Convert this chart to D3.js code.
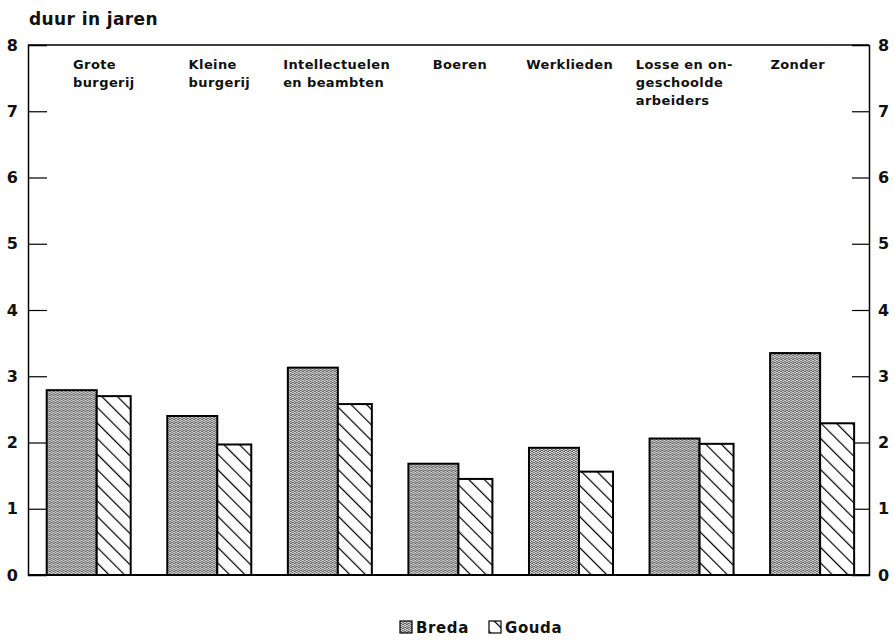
<!DOCTYPE html>
<html><head><meta charset="utf-8">
<script src="https://cdn.jsdelivr.net/npm/d3@7"></script>
<style>
html,body{margin:0;padding:0;background:#fff;}
text{font-family:"DejaVu Sans",sans-serif;font-weight:bold;fill:#111;}
</style></head>
<body><svg id="chart" width="894" height="640"></svg>
<script>
// ---- data ----
const categories = ["Grote burgerij","Kleine burgerij","Intellectuelen en beambten","Boeren","Werklieden","Losse en ongeschoolde arbeiders","Zonder"];
const categoryLabels = [["Grote","burgerij"],["Kleine","burgerij"],["Intellectuelen","en beambten"],["Boeren"],["Werklieden"],["Losse en on-","geschoolde","arbeiders"],["Zonder"]];
const breda = [2.79, 2.40, 3.13, 1.68, 1.92, 2.06, 3.35];
const gouda = [2.70, 1.97, 2.58, 1.45, 1.56, 1.98, 2.29];
const seriesNames = ["Breda","Gouda"];
const yTicks = [0,1,2,3,4,5,6,7,8];
const yTitle = "duur in jaren";

// ---- layout ----
const svg = d3.select("#chart");
const padL = 28, padR = 869, padT = 45, padB = 575;
const x = d3.scaleBand().domain(categories).range([28, 872]).padding(0);
const y = d3.scaleLinear().domain([0, 8]).range([padB, padT]);
const groupOffset = 18.7, wBreda = 50, wGouda = 34;
const labelDx = [45, 40, 14, 43, 16, 5, 19];

const defs = svg.append("defs");
// stipple pattern for Breda
const p1 = defs.append("pattern").attr("id","stip").attr("patternUnits","userSpaceOnUse")
  .attr("width",4).attr("height",4);
p1.append("rect").attr("width",4).attr("height",4).attr("fill","#d0d0d0");
[[0,0],[2,1],[1,2],[3,3],[2,3],[0,2]].forEach(([a,b])=>p1.append("rect").attr("x",a).attr("y",b).attr("width",1).attr("height",1).attr("fill","#666"));
[[1,0],[3,1],[3,2]].forEach(([a,b])=>p1.append("rect").attr("x",a).attr("y",b).attr("width",1).attr("height",1).attr("fill","#999"));
// diagonal hatch for Gouda
const p2 = defs.append("pattern").attr("id","hatch").attr("patternUnits","userSpaceOnUse")
  .attr("width",11).attr("height",11).attr("patternTransform","rotate(-45)");
p2.append("rect").attr("width",11).attr("height",11).attr("fill","#fff");
p2.append("line").attr("x1",0).attr("y1",0).attr("x2",0).attr("y2",11).attr("stroke","#000").attr("stroke-width",2.4);

// title
svg.append("text").attr("x",29).attr("y",25).attr("font-size",17).attr("letter-spacing",0.4).text(yTitle);

// frame: axes
const gL = svg.append("g").attr("transform",`translate(${padL},0)`)
  .call(d3.axisLeft(y).tickValues(yTicks).tickSize(-19).tickPadding(10).tickFormat(d3.format("d")));
const gR = svg.append("g").attr("transform",`translate(${padR},0)`)
  .call(d3.axisRight(y).tickValues(yTicks).tickSize(-17).tickPadding(9).tickFormat(d3.format("d")));
[gL,gR].forEach(g=>{
  g.select(".domain").attr("stroke","#000").attr("stroke-width",1.5);
  g.selectAll(".tick line").attr("stroke","#000").attr("stroke-width",1.2);
  g.selectAll(".tick").filter(d=>d===0||d===8).select("line").remove();
  g.selectAll(".tick text").attr("font-size",16).attr("font-family","DejaVu Sans").attr("font-weight","bold").attr("fill","#111");
});
svg.append("line").attr("x1",padL).attr("x2",padR).attr("y1",y(8)).attr("y2",y(8)).attr("stroke","#000").attr("stroke-width",1.5);

// bars
const groups = svg.append("g").selectAll("g").data(categories).join("g")
  .attr("transform",d=>`translate(${x(d)+groupOffset},0)`);
groups.append("rect").attr("x",0).attr("width",wBreda)
  .attr("y",(d,i)=>y(breda[i])).attr("height",(d,i)=>y(0)-y(breda[i]))
  .attr("fill","url(#stip)").attr("stroke","#000").attr("stroke-width",2);
groups.append("rect").attr("x",wBreda).attr("width",wGouda)
  .attr("y",(d,i)=>y(gouda[i])).attr("height",(d,i)=>y(0)-y(gouda[i]))
  .attr("fill","url(#hatch)").attr("stroke","#000").attr("stroke-width",2);

// baseline
svg.append("line").attr("x1",padL).attr("x2",padR).attr("y1",y(0)).attr("y2",y(0)).attr("stroke","#000").attr("stroke-width",2);

// category labels
categories.forEach((c,i)=>{
  const t = svg.append("text").attr("x",x(c)+labelDx[i]).attr("y",69).attr("font-size",13).attr("letter-spacing",0.4);
  categoryLabels[i].forEach((ln,j)=>t.append("tspan").attr("x",x(c)+labelDx[i]).attr("dy",j===0?0:18.2).text(ln));
});

// legend
const lg = svg.append("g").attr("transform","translate(400,621)");
const items = [{n:seriesNames[0],f:"url(#stip)",x:0},{n:seriesNames[1],f:"url(#hatch)",x:89}];
items.forEach(it=>{
  lg.append("rect").attr("x",it.x).attr("y",0).attr("width",12).attr("height",12).attr("fill",it.f).attr("stroke","#000").attr("stroke-width",1.2);
  lg.append("text").attr("x",it.x+16).attr("y",12).attr("font-size",15).attr("letter-spacing",0.6).text(it.n);
});
</script></body></html>
